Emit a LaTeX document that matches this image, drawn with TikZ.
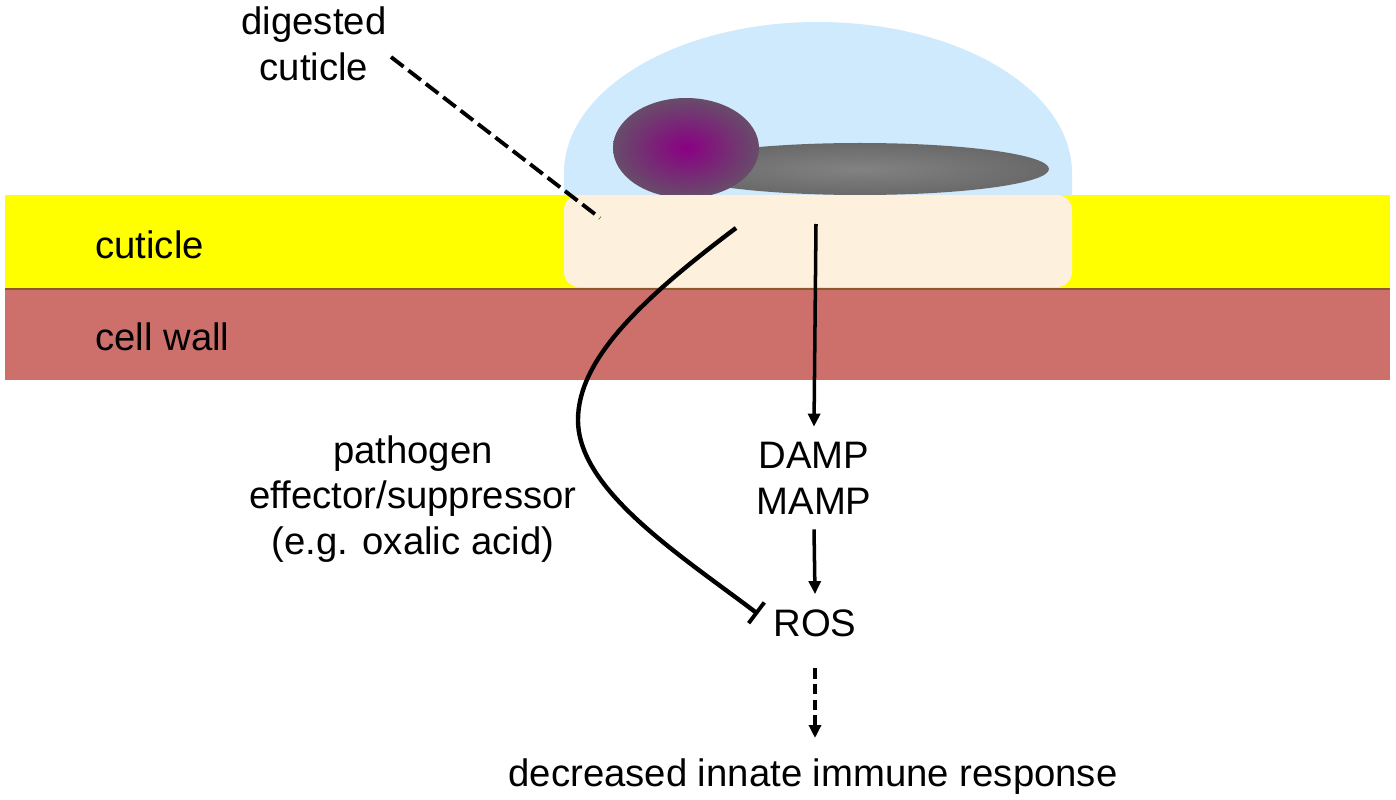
\documentclass[tikz,border=0pt]{standalone}
\usepackage{fontspec}
\setmainfont{Liberation Sans}
\usetikzlibrary{arrows.meta}
\definecolor{dropblue}{HTML}{CFE9FD}
\definecolor{cutyellow}{HTML}{FFFF00}
\definecolor{wallred}{HTML}{CD706C}
\definecolor{wallline}{HTML}{8A5A2A}
\definecolor{digestcream}{HTML}{FDF0DC}
\definecolor{headpurple}{HTML}{8A0084}
\definecolor{headgrey}{HTML}{5F5F63}
\definecolor{tailmid}{HTML}{828282}
\definecolor{tailedge}{HTML}{5E5E5E}
\pgfdeclareradialshading{headshade}{\pgfpoint{0bp}{0bp}}{color(0bp)=(headpurple); color(31bp)=(headgrey); color(50bp)=(headgrey)}
\pgfdeclareradialshading{tailshade}{\pgfpoint{0bp}{0bp}}{color(0bp)=(tailmid); color(36bp)=(tailedge); color(50bp)=(tailedge)}
\tikzset{
  lab/.style={font=\fontsize{21.8}{26}\selectfont,inner sep=0pt,align=center},
  labend/.style={lab,inner sep=0.3cm},
  arr/.style={line width=2pt,-{Triangle[length=0.26cm,width=0.24cm]}},
}
\begin{document}
\begin{tikzpicture}[x=0.02cm,y=-0.02cm]
    \useasboundingbox (0,0) rectangle (1396,800);
    % drop and layers
    \fill[dropblue] (564,200) -- (564,173) arc[start angle=180,end angle=360,x radius=254,y radius=151] -- (1072,200) -- cycle;
    \fill[cutyellow] (5,195) rectangle (1390,288);
    \fill[wallred] (5,289) rectangle (1390,380);
    \draw[wallline,line width=1pt] (5,289) -- (1390,289);
    \fill[digestcream,rounded corners=0.3cm] (564,195) rectangle (1072,287);
    % fungus
    \begin{scope}
      \clip (500,60) rectangle (1100,195);
      \shade[shading=tailshade] (860,169) ellipse[x radius=189,y radius=26];
      \shade[shading=headshade] (686,148) ellipse[x radius=73,y radius=50];
    \end{scope}
    % labels
    \node[lab] (digested) at (314,44) {digested\\cuticle};
    \node[lab,anchor=west] (cuticle) at (95,245) {cuticle};
    \node[lab,anchor=west] (cellwall) at (95,337) {cell wall};
    \node[lab] (effector) at (413,499) {pathogen\\effector/suppressor\\(e.g. oxalic acid)};
    \node[labend] (damp) at (814,478) {DAMP\\MAMP};
    \node[labend] (ros) at (815,623) {ROS};
    \node[lab] (response) at (813,777) {decreased innate immune response};
    \coordinate (dashfrom) at (391,57);
    \coordinate (dashto) at (600,218);
    \coordinate (curvefrom) at (736,228);
    \coordinate (curveto) at (758,614);
    \coordinate (damptop) at (816,224);
    \coordinate (rosdash) at (815,668);
    \coordinate (respdash) at (815,738);
    % connectors
    \draw[line width=2.2pt,dashed,dash pattern=on 9pt off 3.5pt] (dashfrom) -- (dashto);
    \draw[line width=2.5pt,-{Bar[width=0.52cm,line width=2.2pt]}] (curvefrom) .. controls (640,300) and (578,360) .. (578,420) .. controls (578,490) and (680,555) .. (curveto);
    \draw[arr] (damptop) -- (damp.north);
    \draw[arr] (damp.south) -- (ros.north);
    \draw[arr,dash pattern=on 6pt off 3pt] (rosdash) -- (respdash);
  \end{tikzpicture}
\end{document}
